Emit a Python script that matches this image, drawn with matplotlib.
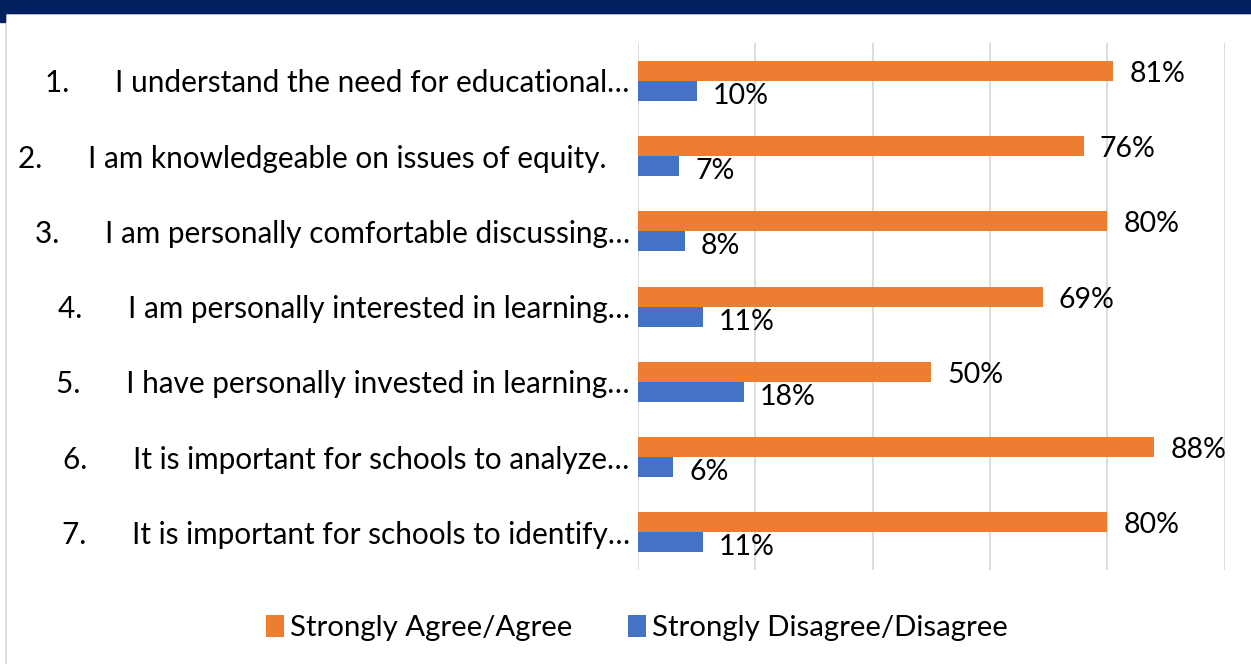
import numpy as np
import matplotlib.pyplot as plt
from matplotlib.patches import Rectangle
from matplotlib.lines import Line2D

plt.rcParams['font.family'] = ['Lato', 'DejaVu Sans']

categories = [
    "1.      I understand the need for educational\u2026",
    "2.      I am knowledgeable on issues of equity.   ",
    "3.      I am personally comfortable discussing\u2026",
    "4.      I am personally interested in learning\u2026",
    "5.      I have personally invested in learning\u2026",
    "6.      It is important for schools to analyze\u2026",
    "7.      It is important for schools to identify\u2026",
]
agree = [81, 76, 80, 69, 50, 88, 80]
disagree = [10, 7, 8, 11, 18, 6, 11]

orange = '#ED7D31'
blue = '#4472C4'
navy = '#002060'

fig = plt.figure(figsize=(12.51, 6.64), dpi=100)
ax = fig.add_axes([0.51, 0.1416, 0.469, 0.7934])

y = np.arange(len(categories))
h = 0.266
ax.barh(y - h / 2, agree, height=h, color=orange, label='Strongly Agree/Agree')
ax.barh(y + h / 2, disagree, height=h, color=blue, label='Strongly Disagree/Disagree')

for i in range(len(categories)):
    ax.annotate(f"{agree[i]}%", (agree[i], y[i] - h / 2), xytext=(16, -3),
                textcoords='offset pixels', va='center', ha='left', fontsize=20.5)
    ax.annotate(f"{disagree[i]}%", (disagree[i], y[i] + h / 2), xytext=(16, -5),
                textcoords='offset pixels', va='center', ha='left', fontsize=20.5)

ax.set_xlim(0, 100)
ax.set_ylim(len(categories) - 0.5, -0.5)
ax.set_xticks([0, 20, 40, 60, 80, 100])
ax.set_xticklabels([])
ax.grid(axis='x', color='#D9D9D9', linewidth=1.3)
ax.set_axisbelow(True)
ax.tick_params(axis='both', length=0)
ax.set_yticks(y)
ax.set_yticklabels(categories, fontsize=21.4)
ax.tick_params(axis='y', pad=6)
for s in ax.spines.values():
    s.set_visible(False)

# header band and frame
fig.patches.append(Rectangle((0, 1 - 13 / 664), 1, 13 / 664, transform=fig.transFigure,
                             color=navy, zorder=5))
fig.patches.append(Rectangle((0, 1 - 22 / 664), 5 / 1251, 9 / 664, transform=fig.transFigure,
                             color=navy, zorder=5))
fig.lines.append(Line2D([5.5 / 1251, 5.5 / 1251], [0, 1 - 13 / 664], transform=fig.transFigure,
                        color='#D9D9D9', linewidth=1.2))
fig.lines.append(Line2D([5.5 / 1251, 1], [1 - 14 / 664, 1 - 14 / 664], transform=fig.transFigure,
                        color='#D9D9D9', linewidth=1.2))

fig.legend(loc='center', bbox_to_anchor=(0.509, 1 - 628 / 664), ncol=2, frameon=False,
           fontsize=21.2, handlelength=0.6, handleheight=0.8, handletextpad=0.2,
           columnspacing=1.9)

fig.savefig('out.png', dpi=100)
